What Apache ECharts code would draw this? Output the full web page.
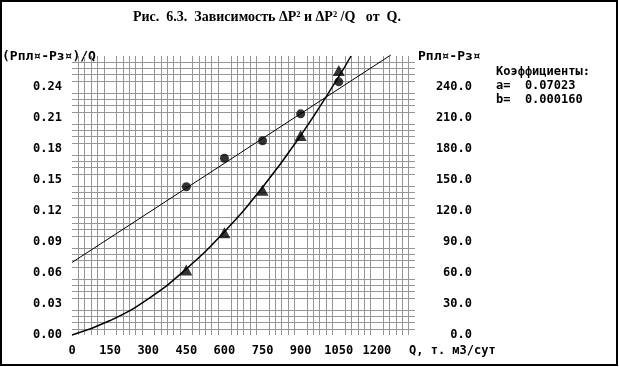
<!DOCTYPE html>
<html>
<head>
<meta charset="utf-8">
<script src="https://cdn.jsdelivr.net/npm/echarts@6/dist/echarts.min.js"></script>
<style>
html,body{margin:0;padding:0;background:#fff;}
#c{width:619px;height:367px;}
</style>
</head>
<body>
<div id="c"></div>
<script>
// Measured points (Q, т. м3/сут)
const qPoints = [450, 600, 750, 900, 1050];
// (Pпл-Pз)/Q — circles, left axis
const ratioPoints = [0.1435, 0.171, 0.188, 0.214, 0.245];
// Pпл-Pз — triangles, right axis
const dpPoints = [63, 99, 140, 193, 256];
// Fitted straight line
const fitLineQ = [0, 1255];
const fitLineRatio = [0.0702, 0.271];
// Fitted curve
const curveQ = [0, 150, 300, 450, 600, 750, 900, 1050, 1098];
const curveDp = [0, 14, 35, 64, 100, 143, 193, 250, 270];
// Coefficients text
const coefA = '0.07023';
const coefB = '0.000160';

const zip = (xs, ys) => xs.map((x, i) => [x, ys[i]]);
const monoFont = 'DejaVu Sans Mono';
const gridColor = '#959595';

const chart = echarts.init(document.getElementById('c'), null, {renderer: 'canvas'});
chart.setOption({
  animation: false,
  backgroundColor: '#fff',
  title: {
    text: 'Рис.  6.3.  Зависимость ΔP² и ΔP² /Q   от  Q.',
    left: 128,
    top: 5,
    textStyle: {fontFamily: 'Liberation Serif', fontWeight: 'bold', fontSize: 14, color: '#000'}
  },
  grid: {left: 72, top: 56, width: 343, height: 279, containLabel: false},
  xAxis: {
    type: 'value', min: 0, max: 1350, interval: 150,
    axisLine: {show: false}, axisTick: {show: false},
    splitLine: {show: false},
    minorTick: {show: false, splitNumber: 6},
    minorSplitLine: {show: true, lineStyle: {color: gridColor, width: 1}},
    axisLabel: {
      margin: 10, color: '#000', fontFamily: monoFont, fontWeight: 'bold', fontSize: 12,
      formatter: v => v === 1350 ? '' : String(v)
    }
  },
  yAxis: [
    {
      type: 'value', min: 0, max: 0.27, interval: 0.03,
      axisLine: {show: false}, axisTick: {show: false},
      splitLine: {show: false},
      minorTick: {show: false, splitNumber: 5},
      minorSplitLine: {show: true, lineStyle: {color: gridColor, width: 1}},
      axisLabel: {
        margin: 10, color: '#000', fontFamily: monoFont, fontWeight: 'bold', fontSize: 12,
        formatter: v => v >= 0.269 ? '' : v.toFixed(2)
      }
    },
    {
      type: 'value', min: 0, max: 270, interval: 30, position: 'right',
      axisLine: {show: false}, axisTick: {show: false},
      splitLine: {show: false},
      axisLabel: {
        margin: 57, align: 'right', color: '#000', fontFamily: monoFont, fontWeight: 'bold', fontSize: 12,
        formatter: v => v >= 269 ? '' : v.toFixed(1)
      }
    }
  ],
  series: [
    {
      type: 'line', yAxisIndex: 0, data: zip(fitLineQ, fitLineRatio),
      showSymbol: false, clip: false, lineStyle: {color: '#000', width: 1}
    },
    {
      type: 'line', yAxisIndex: 1, data: zip(curveQ, curveDp), smooth: true,
      showSymbol: false, clip: false, lineStyle: {color: '#000', width: 1.5}
    },
    {
      type: 'scatter', yAxisIndex: 0, data: zip(qPoints, ratioPoints),
      symbol: 'circle', symbolSize: 9, itemStyle: {color: '#000'}
    },
    {
      type: 'scatter', yAxisIndex: 1, data: zip(qPoints, dpPoints),
      symbol: 'triangle', symbolSize: [12, 11], itemStyle: {color: '#000'}
    }
  ],
  graphic: [
    {type: 'rect', shape: {x: 1, y: 1, width: 616, height: 364}, style: {fill: null, stroke: '#000', lineWidth: 2}, silent: true},
    {type: 'text', left: 2, top: 50, style: {text: '(Pпл¤-Pз¤)/Q', font: 'bold 13px "DejaVu Sans Mono"', fill: '#000'}},
    {type: 'text', left: 418, top: 50, style: {text: 'Pпл¤-Pз¤', font: 'bold 13px "DejaVu Sans Mono"', fill: '#000'}},
    {type: 'text', left: 496, top: 66, style: {text: 'Коэффициенты:', font: 'bold 12px "DejaVu Sans Mono"', fill: '#000'}},
    {type: 'text', left: 496, top: 80, style: {text: 'a=  ' + coefA, font: 'bold 12px "DejaVu Sans Mono"', fill: '#000'}},
    {type: 'text', left: 496, top: 94, style: {text: 'b=  ' + coefB, font: 'bold 12px "DejaVu Sans Mono"', fill: '#000'}},
    {type: 'text', left: 409, top: 345, style: {text: 'Q, т. м3/сут', font: 'bold 12px "DejaVu Sans Mono"', fill: '#000'}}
  ]
});
</script>
</body>
</html>
